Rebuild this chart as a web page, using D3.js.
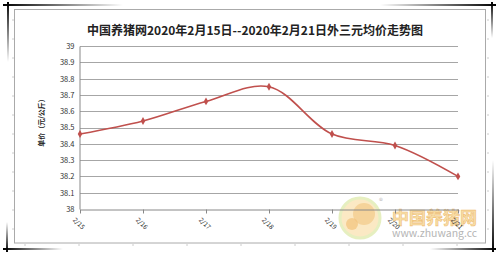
<!DOCTYPE html>
<html>
<head>
<meta charset="utf-8">
<script src="https://cdn.jsdelivr.net/npm/d3@7"></script>
<style>
  body { margin:0; background:#fff; }
  text { font-family: "Noto Sans CJK SC", "DejaVu Sans", sans-serif; }
</style>
</head>
<body>
<svg id="Vis" width="500" height="254"></svg>
<script>
var dates  = ["2/15","2/16","2/17","2/18","2/19","2/20","2/21"];
var prices = [38.46, 38.54, 38.66, 38.75, 38.46, 38.39, 38.20];
var yTicks = [38, 38.1, 38.2, 38.3, 38.4, 38.5, 38.6, 38.7, 38.8, 38.9, 39];
var titleText = "中国养猪网2020年2月15日--2020年2月21日外三元均价走势图";
var yLabel = "单价（元/公斤）";

var svg = d3.select("#Vis");

// shadow-ish corner frame
var defs = svg.append("defs");
function grad(id, x1, y1, x2, y2){
  var g = defs.append("linearGradient").attr("id", id)
     .attr("x1", x1).attr("y1", y1).attr("x2", x2).attr("y2", y2);
  g.append("stop").attr("offset", "0%").attr("stop-color", "#000").attr("stop-opacity", 1);
  g.append("stop").attr("offset", "100%").attr("stop-color", "#000").attr("stop-opacity", 0);
}
grad("gR", "0", "0", "1", "0");
grad("gL", "1", "0", "0", "0");
grad("gD", "0", "0", "0", "1");
grad("gU", "0", "1", "0", "0");

svg.append("rect").attr("x", 3).attr("y", 4).attr("width", 120).attr("height", 2).attr("fill", "url(#gR)");
svg.append("rect").attr("x", 7).attr("y", 2).attr("width", 2).attr("height", 60).attr("fill", "url(#gD)");
svg.append("rect").attr("x", 380).attr("y", 4).attr("width", 116).attr("height", 2).attr("fill", "url(#gL)");
svg.append("rect").attr("x", 491).attr("y", 2).attr("width", 2).attr("height", 36).attr("fill", "url(#gD)");
svg.append("rect").attr("x", 3).attr("y", 248).attr("width", 60).attr("height", 2).attr("fill", "url(#gR)");
svg.append("rect").attr("x", 6).attr("y", 222).attr("width", 2).attr("height", 30).attr("fill", "url(#gU)");
svg.append("rect").attr("x", 430).attr("y", 248).attr("width", 66).attr("height", 2).attr("fill", "url(#gL)");
svg.append("rect").attr("x", 492).attr("y", 160).attr("width", 2).attr("height", 92).attr("fill", "url(#gU)");

// ruler ticks
for (var i = 0; i < 12; i++) {
  svg.append("line").attr("x1", 12).attr("x2", 14).attr("y1", 20 + i*19).attr("y2", 20 + i*19)
     .attr("stroke", "#ccc").attr("stroke-width", 1);
  svg.append("line").attr("x1", 487).attr("x2", 489).attr("y1", 20 + i*19).attr("y2", 20 + i*19)
     .attr("stroke", "#ccc").attr("stroke-width", 1);
}
for (var i = 0; i < 9; i++) {
  svg.append("line").attr("x1", 25 + i*54).attr("x2", 25 + i*54).attr("y1", 244).attr("y2", 246)
     .attr("stroke", "#ccc").attr("stroke-width", 1);
}

// chart box
svg.append("rect").attr("x", 14.5).attr("y", 9.5).attr("width", 471).attr("height", 233.5)
   .attr("fill", "#fff").attr("stroke", "#aaa").attr("stroke-width", 1);

var x = d3.scalePoint().domain(dates).range([80, 458]).padding(0);
var y = d3.scaleLinear().domain([38, 39]).range([209, 46]);

// watermark
var wm = svg.append("g");
wm.append("circle").attr("cx", 360).attr("cy", 218).attr("r", 20).attr("fill", "#fbe9c4")
  .attr("stroke", "#e6efc0").attr("stroke-width", 3);
wm.append("circle").attr("cx", 364).attr("cy", 214).attr("r", 11).attr("fill", "#f5d39a");
wm.append("circle").attr("cx", 352).attr("cy", 224).attr("r", 6).attr("fill", "#f2c27a").attr("opacity", 0.7);
wm.append("text").attr("x", 379).attr("y", 204).attr("font-size", 8).attr("fill", "#bbb").text("®");
wm.append("text").attr("x", 392).attr("y", 224).attr("font-size", 17).attr("font-weight", "bold")
  .attr("fill", "#f8dfa8").attr("stroke", "#efc07a").attr("stroke-width", 0.6).text("中国养猪网");
wm.append("text").attr("x", 392).attr("y", 237).attr("font-size", 10.5).attr("fill", "#b5b5b5")
  .attr("font-family", "Arial, 'Liberation Sans', sans-serif").text("www.zhuwang.cc");

// gridlines
svg.append("g").selectAll("line").data(yTicks.slice(1)).enter().append("line")
   .attr("x1", 80).attr("x2", 458)
   .attr("y1", function(d){ return Math.round(y(d)) + 0.5; })
   .attr("y2", function(d){ return Math.round(y(d)) + 0.5; })
   .attr("stroke", "#a6a6a6").attr("stroke-width", 1);

// y axis
var yAxis = svg.append("g").attr("transform", "translate(79.5,0)")
   .call(d3.axisLeft(y).tickValues(yTicks).tickSize(0).tickPadding(5)
         .tickFormat(function(d){ return d3.format("")(Math.round(d*10)/10); }));
yAxis.select(".domain").attr("stroke", "#888");
yAxis.selectAll("text").attr("font-size", 7.5).attr("fill", "#333")
   .attr("font-family", "'Liberation Sans', Arial, sans-serif");

// x axis
var xAxis = svg.append("g").attr("transform", "translate(0,209.5)")
   .call(d3.axisBottom(x).tickSize(4).tickSizeOuter(0));
xAxis.select(".domain").attr("stroke", "#888");
xAxis.selectAll(".tick line").attr("stroke", "#888");
xAxis.selectAll("text").attr("font-size", 6.5).attr("fill", "#222")
   .attr("font-family", "'Liberation Sans', Arial, sans-serif")
   .attr("text-anchor", "start").attr("dy", 0)
   .attr("transform", "translate(-3,6) rotate(45)");

// line
var line = d3.line()
   .x(function(d,i){ return x(dates[i]); })
   .y(function(d){ return y(d); })
   .curve(d3.curveCatmullRom.alpha(0.5));

svg.append("path").datum(prices).attr("d", line)
   .attr("fill", "none").attr("stroke", "#c0504d").attr("stroke-width", 1.6);

svg.append("g").selectAll("path.pt").data(prices).enter().append("path")
   .attr("class", "pt")
   .attr("d", d3.symbol().type(d3.symbolDiamond).size(18))
   .attr("transform", function(d,i){ return "translate(" + x(dates[i]) + "," + y(d) + ")"; })
   .attr("fill", "#c0504d");

// title
svg.append("text").attr("x", 255).attr("y", 35).attr("text-anchor", "middle")
   .attr("font-size", 12).attr("font-weight", "bold").attr("fill", "#222")
   .text(titleText);

// y label
svg.append("text").attr("transform", "translate(44,121) rotate(-90)")
   .attr("text-anchor", "middle").attr("font-size", 7).attr("font-weight", "bold").attr("fill", "#222")
   .text(yLabel);
</script>
</body>
</html>
